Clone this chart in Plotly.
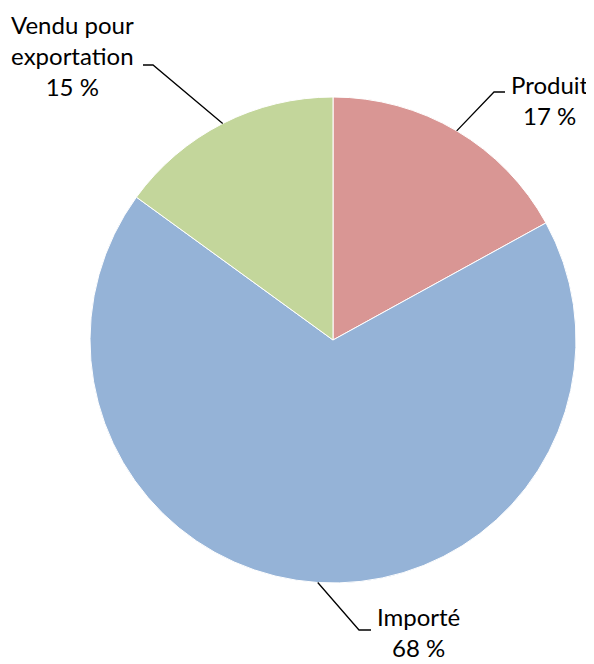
import math
import plotly.graph_objects as go

labels = ["Produit", "Importé", "Vendu pour<br>exportation"]
values = [17, 68, 15]
colors = ["#D99694", "#95B3D7", "#C3D69B"]

# page body adds an 8px margin at top/left; let the figure run to the window edge
OFF = 8
W, H = 594 - OFF, 664 - OFF
cx, cy, r = 333 - OFF, 340 - OFF, 243

# label block centers (reference pixels) and leader line elbows, per slice
label_pos = [(550, 100), (418, 632), (72, 56)]
elbows = [((494, 92), (505, 92)), ((359, 630), (371, 630)), ((153, 65), (143, 65))]

fig = go.Figure(go.Pie(
    labels=[l.replace("<br>", " ") for l in labels], values=values, sort=False,
    direction="clockwise", rotation=0,
    marker=dict(colors=colors, line=dict(color="white", width=1)),
    textinfo="none", hoverinfo="label+percent",
    domain=dict(x=[(cx - r) / W, (cx + r) / W], y=[(H - cy - r) / H, (H - cy + r) / H]),
    showlegend=False,
))

def px(x, y, ref=True):
    if ref:
        x, y = x - OFF, y - OFF
    return x / W, 1 - y / H

total = sum(values)
cum = 0
font = dict(family="Lato, sans-serif", size=24, color="black")
for i, v in enumerate(values):
    mid = (cum + v / 2) / total * 2 * math.pi
    cum += v
    ex, ey = cx + r * math.sin(mid), cy - r * math.cos(mid)
    (bx, by), (tx, ty) = elbows[i]
    pts = [px(ex, ey, ref=False), px(bx, by), px(tx, ty)]
    path = "M {} {} L {} {} L {} {}".format(*[c for p in pts for c in p])
    fig.add_shape(type="path", path=path, xref="paper", yref="paper",
                  line=dict(color="black", width=1.3))
    ax, ay = px(*label_pos[i])
    fig.add_annotation(x=ax, y=ay, xref="paper", yref="paper",
                       text=f"{labels[i]}<br>{round(v / total * 100)} %",
                       showarrow=False, font=font, align="center",
                       xanchor="center", yanchor="middle")

fig.update_layout(width=W, height=H, margin=dict(l=0, r=0, t=0, b=0),
                  paper_bgcolor="white", plot_bgcolor="white")

fig.write_html("out.html")
